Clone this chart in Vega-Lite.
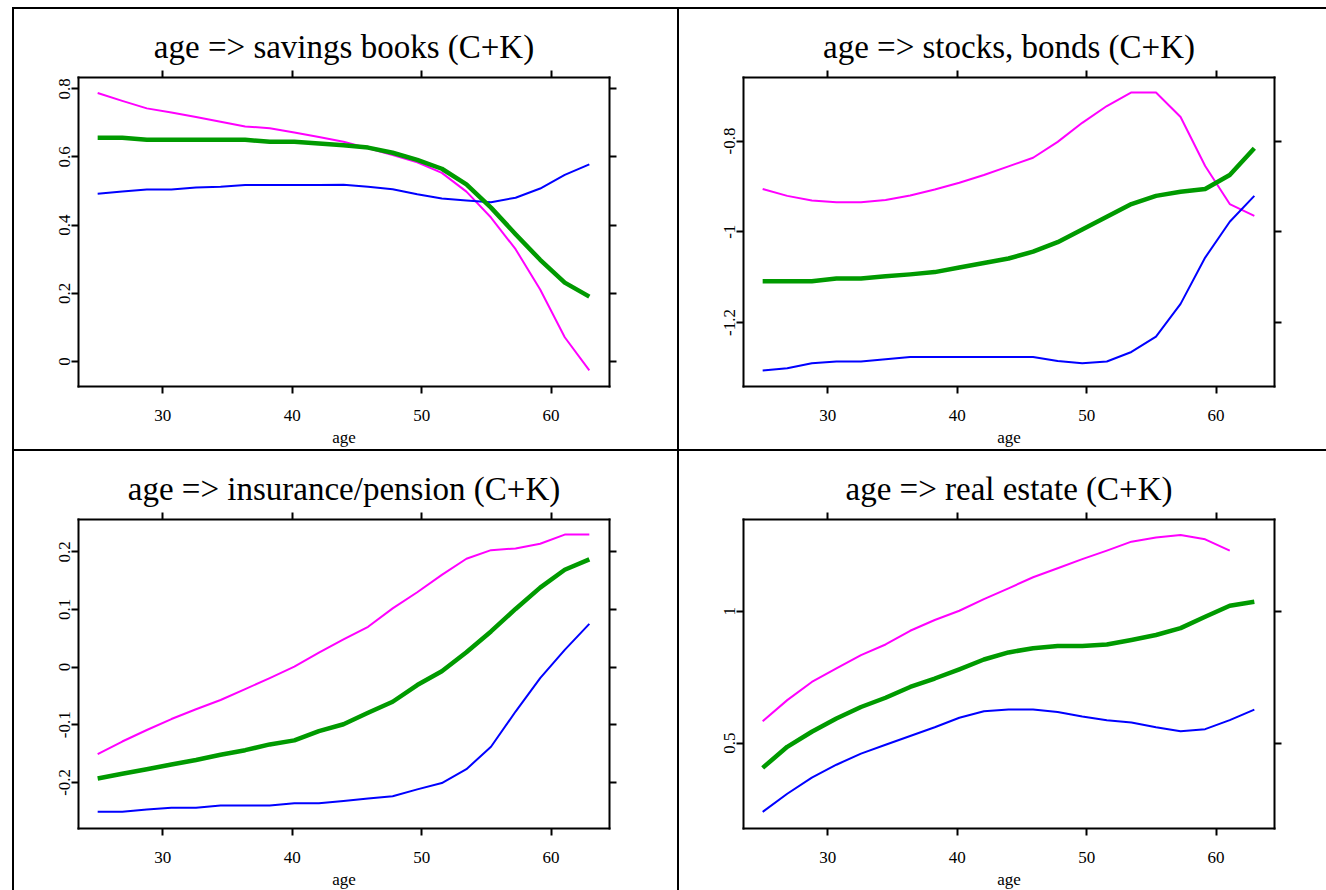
{
  "$schema": "https://vega.github.io/schema/vega-lite/v6.json",
  "background": "white",
  "padding": {"left": 12, "top": 7, "right": 0, "bottom": 0},
  "columns": 2,
  "spacing": 0,
  "bounds": "flush",
  "config": {
    "font": "Liberation Serif, Times New Roman, DejaVu Serif, serif",
    "view": {"stroke": "black", "strokeWidth": 2},
    "axis": {"grid": false, "domainColor": "black", "domainWidth": 2, "domainCap": "square", "tickColor": "black", "tickWidth": 2, "tickSize": 7, "labelFont": "Liberation Serif, Times New Roman, DejaVu Serif, serif", "labelFontSize": 17, "labelColor": "black", "titleFont": "Liberation Serif, Times New Roman, DejaVu Serif, serif", "titleFontWeight": "normal", "titleColor": "black", "labelFlush": false, "labelOverlap": false}
  },
  "datasets": {
    "savings": [
      {"age":25,"series":"hi","value":0.786},{"age":26.9,"series":"hi","value":0.763},{"age":28.8,"series":"hi","value":0.741},{"age":30.7,"series":"hi","value":0.729},{"age":32.6,"series":"hi","value":0.716},{"age":34.5,"series":"hi","value":0.702},{"age":36.4,"series":"hi","value":0.688},{"age":38.3,"series":"hi","value":0.683},{"age":40.2,"series":"hi","value":0.670},{"age":42.1,"series":"hi","value":0.657},{"age":44,"series":"hi","value":0.643},{"age":45.9,"series":"hi","value":0.624},{"age":47.8,"series":"hi","value":0.604},{"age":49.7,"series":"hi","value":0.583},{"age":51.6,"series":"hi","value":0.552},{"age":53.5,"series":"hi","value":0.497},{"age":55.4,"series":"hi","value":0.421},{"age":57.3,"series":"hi","value":0.328},{"age":59.2,"series":"hi","value":0.210},{"age":61.1,"series":"hi","value":0.070},{"age":63,"series":"hi","value":-0.027},
      {"age":25,"series":"lo","value":0.491},{"age":26.9,"series":"lo","value":0.497},{"age":28.8,"series":"lo","value":0.503},{"age":30.7,"series":"lo","value":0.503},{"age":32.6,"series":"lo","value":0.509},{"age":34.5,"series":"lo","value":0.511},{"age":36.4,"series":"lo","value":0.516},{"age":38.3,"series":"lo","value":0.516},{"age":40.2,"series":"lo","value":0.516},{"age":42.1,"series":"lo","value":0.516},{"age":44,"series":"lo","value":0.517},{"age":45.9,"series":"lo","value":0.511},{"age":47.8,"series":"lo","value":0.504},{"age":49.7,"series":"lo","value":0.489},{"age":51.6,"series":"lo","value":0.477},{"age":53.5,"series":"lo","value":0.471},{"age":55.4,"series":"lo","value":0.466},{"age":57.3,"series":"lo","value":0.479},{"age":59.2,"series":"lo","value":0.506},{"age":61.1,"series":"lo","value":0.546},{"age":63,"series":"lo","value":0.577},
      {"age":25,"series":"est","value":0.655},{"age":26.9,"series":"est","value":0.655},{"age":28.8,"series":"est","value":0.649},{"age":30.7,"series":"est","value":0.649},{"age":32.6,"series":"est","value":0.649},{"age":34.5,"series":"est","value":0.649},{"age":36.4,"series":"est","value":0.649},{"age":38.3,"series":"est","value":0.643},{"age":40.2,"series":"est","value":0.643},{"age":42.1,"series":"est","value":0.638},{"age":44,"series":"est","value":0.633},{"age":45.9,"series":"est","value":0.626},{"age":47.8,"series":"est","value":0.611},{"age":49.7,"series":"est","value":0.590},{"age":51.6,"series":"est","value":0.564},{"age":53.5,"series":"est","value":0.518},{"age":55.4,"series":"est","value":0.450},{"age":57.3,"series":"est","value":0.372},{"age":59.2,"series":"est","value":0.297},{"age":61.1,"series":"est","value":0.230},{"age":63,"series":"est","value":0.189}
    ],
    "stocks": [
      {"age":25,"series":"hi","value":-0.907},{"age":26.9,"series":"hi","value":-0.922},{"age":28.8,"series":"hi","value":-0.932},{"age":30.7,"series":"hi","value":-0.936},{"age":32.6,"series":"hi","value":-0.936},{"age":34.5,"series":"hi","value":-0.931},{"age":36.4,"series":"hi","value":-0.921},{"age":38.3,"series":"hi","value":-0.908},{"age":40.2,"series":"hi","value":-0.893},{"age":42.1,"series":"hi","value":-0.876},{"age":44,"series":"hi","value":-0.857},{"age":45.9,"series":"hi","value":-0.838},{"age":47.8,"series":"hi","value":-0.803},{"age":49.7,"series":"hi","value":-0.761},{"age":51.6,"series":"hi","value":-0.724},{"age":53.5,"series":"hi","value":-0.694},{"age":55.4,"series":"hi","value":-0.694},{"age":57.3,"series":"hi","value":-0.748},{"age":59.2,"series":"hi","value":-0.856},{"age":61.1,"series":"hi","value":-0.940},{"age":63,"series":"hi","value":-0.966},
      {"age":25,"series":"lo","value":-1.307},{"age":26.9,"series":"lo","value":-1.302},{"age":28.8,"series":"lo","value":-1.291},{"age":30.7,"series":"lo","value":-1.287},{"age":32.6,"series":"lo","value":-1.287},{"age":34.5,"series":"lo","value":-1.282},{"age":36.4,"series":"lo","value":-1.277},{"age":38.3,"series":"lo","value":-1.277},{"age":40.2,"series":"lo","value":-1.277},{"age":42.1,"series":"lo","value":-1.277},{"age":44,"series":"lo","value":-1.277},{"age":45.9,"series":"lo","value":-1.277},{"age":47.8,"series":"lo","value":-1.286},{"age":49.7,"series":"lo","value":-1.291},{"age":51.6,"series":"lo","value":-1.287},{"age":53.5,"series":"lo","value":-1.266},{"age":55.4,"series":"lo","value":-1.232},{"age":57.3,"series":"lo","value":-1.160},{"age":59.2,"series":"lo","value":-1.058},{"age":61.1,"series":"lo","value":-0.979},{"age":63,"series":"lo","value":-0.922},
      {"age":25,"series":"est","value":-1.110},{"age":26.9,"series":"est","value":-1.110},{"age":28.8,"series":"est","value":-1.110},{"age":30.7,"series":"est","value":-1.104},{"age":32.6,"series":"est","value":-1.104},{"age":34.5,"series":"est","value":-1.099},{"age":36.4,"series":"est","value":-1.095},{"age":38.3,"series":"est","value":-1.090},{"age":40.2,"series":"est","value":-1.080},{"age":42.1,"series":"est","value":-1.070},{"age":44,"series":"est","value":-1.060},{"age":45.9,"series":"est","value":-1.045},{"age":47.8,"series":"est","value":-1.024},{"age":49.7,"series":"est","value":-0.996},{"age":51.6,"series":"est","value":-0.968},{"age":53.5,"series":"est","value":-0.940},{"age":55.4,"series":"est","value":-0.922},{"age":57.3,"series":"est","value":-0.913},{"age":59.2,"series":"est","value":-0.907},{"age":61.1,"series":"est","value":-0.876},{"age":63,"series":"est","value":-0.817}
    ],
    "insurance": [
      {"age":25,"series":"hi","value":-0.152},{"age":26.9,"series":"hi","value":-0.130},{"age":28.8,"series":"hi","value":-0.110},{"age":30.7,"series":"hi","value":-0.091},{"age":32.6,"series":"hi","value":-0.074},{"age":34.5,"series":"hi","value":-0.058},{"age":36.4,"series":"hi","value":-0.039},{"age":38.3,"series":"hi","value":-0.020},{"age":40.2,"series":"hi","value":0.000},{"age":42.1,"series":"hi","value":0.024},{"age":44,"series":"hi","value":0.047},{"age":45.9,"series":"hi","value":0.069},{"age":47.8,"series":"hi","value":0.101},{"age":49.7,"series":"hi","value":0.129},{"age":51.6,"series":"hi","value":0.159},{"age":53.5,"series":"hi","value":0.187},{"age":55.4,"series":"hi","value":0.202},{"age":57.3,"series":"hi","value":0.205},{"age":59.2,"series":"hi","value":0.213},{"age":61.1,"series":"hi","value":0.229},{"age":63,"series":"hi","value":0.229},
      {"age":25,"series":"lo","value":-0.252},{"age":26.9,"series":"lo","value":-0.252},{"age":28.8,"series":"lo","value":-0.248},{"age":30.7,"series":"lo","value":-0.245},{"age":32.6,"series":"lo","value":-0.245},{"age":34.5,"series":"lo","value":-0.241},{"age":36.4,"series":"lo","value":-0.241},{"age":38.3,"series":"lo","value":-0.241},{"age":40.2,"series":"lo","value":-0.237},{"age":42.1,"series":"lo","value":-0.237},{"age":44,"series":"lo","value":-0.233},{"age":45.9,"series":"lo","value":-0.229},{"age":47.8,"series":"lo","value":-0.225},{"age":49.7,"series":"lo","value":-0.213},{"age":51.6,"series":"lo","value":-0.202},{"age":53.5,"series":"lo","value":-0.178},{"age":55.4,"series":"lo","value":-0.139},{"age":57.3,"series":"lo","value":-0.078},{"age":59.2,"series":"lo","value":-0.020},{"age":61.1,"series":"lo","value":0.029},{"age":63,"series":"lo","value":0.074},
      {"age":25,"series":"est","value":-0.194},{"age":26.9,"series":"est","value":-0.186},{"age":28.8,"series":"est","value":-0.178},{"age":30.7,"series":"est","value":-0.170},{"age":32.6,"series":"est","value":-0.162},{"age":34.5,"series":"est","value":-0.153},{"age":36.4,"series":"est","value":-0.145},{"age":38.3,"series":"est","value":-0.135},{"age":40.2,"series":"est","value":-0.128},{"age":42.1,"series":"est","value":-0.112},{"age":44,"series":"est","value":-0.100},{"age":45.9,"series":"est","value":-0.080},{"age":47.8,"series":"est","value":-0.061},{"age":49.7,"series":"est","value":-0.032},{"age":51.6,"series":"est","value":-0.008},{"age":53.5,"series":"est","value":0.025},{"age":55.4,"series":"est","value":0.061},{"age":57.3,"series":"est","value":0.100},{"age":59.2,"series":"est","value":0.137},{"age":61.1,"series":"est","value":0.168},{"age":63,"series":"est","value":0.186}
    ],
    "realestate": [
      {"age":25,"series":"hi","value":0.581},{"age":26.9,"series":"hi","value":0.661},{"age":28.8,"series":"hi","value":0.730},{"age":30.7,"series":"hi","value":0.781},{"age":32.6,"series":"hi","value":0.832},{"age":34.5,"series":"hi","value":0.872},{"age":36.4,"series":"hi","value":0.924},{"age":38.3,"series":"hi","value":0.965},{"age":40.2,"series":"hi","value":1.000},{"age":42.1,"series":"hi","value":1.044},{"age":44,"series":"hi","value":1.085},{"age":45.9,"series":"hi","value":1.127},{"age":47.8,"series":"hi","value":1.161},{"age":49.7,"series":"hi","value":1.196},{"age":51.6,"series":"hi","value":1.228},{"age":53.5,"series":"hi","value":1.262},{"age":55.4,"series":"hi","value":1.278},{"age":57.3,"series":"hi","value":1.287},{"age":59.2,"series":"hi","value":1.271},{"age":61.1,"series":"hi","value":1.228},
      {"age":25,"series":"lo","value":0.237},{"age":26.9,"series":"lo","value":0.306},{"age":28.8,"series":"lo","value":0.367},{"age":30.7,"series":"lo","value":0.416},{"age":32.6,"series":"lo","value":0.458},{"age":34.5,"series":"lo","value":0.492},{"age":36.4,"series":"lo","value":0.525},{"age":38.3,"series":"lo","value":0.558},{"age":40.2,"series":"lo","value":0.594},{"age":42.1,"series":"lo","value":0.619},{"age":44,"series":"lo","value":0.625},{"age":45.9,"series":"lo","value":0.625},{"age":47.8,"series":"lo","value":0.616},{"age":49.7,"series":"lo","value":0.599},{"age":51.6,"series":"lo","value":0.585},{"age":53.5,"series":"lo","value":0.576},{"age":55.4,"series":"lo","value":0.558},{"age":57.3,"series":"lo","value":0.543},{"age":59.2,"series":"lo","value":0.551},{"age":61.1,"series":"lo","value":0.585},{"age":63,"series":"lo","value":0.625},
      {"age":25,"series":"est","value":0.404},{"age":26.9,"series":"est","value":0.484},{"age":28.8,"series":"est","value":0.541},{"age":30.7,"series":"est","value":0.591},{"age":32.6,"series":"est","value":0.635},{"age":34.5,"series":"est","value":0.670},{"age":36.4,"series":"est","value":0.711},{"age":38.3,"series":"est","value":0.743},{"age":40.2,"series":"est","value":0.778},{"age":42.1,"series":"est","value":0.815},{"age":44,"series":"est","value":0.842},{"age":45.9,"series":"est","value":0.858},{"age":47.8,"series":"est","value":0.866},{"age":49.7,"series":"est","value":0.866},{"age":51.6,"series":"est","value":0.872},{"age":53.5,"series":"est","value":0.889},{"age":55.4,"series":"est","value":0.908},{"age":57.3,"series":"est","value":0.934},{"age":59.2,"series":"est","value":0.977},{"age":61.1,"series":"est","value":1.019},{"age":63,"series":"est","value":1.034}
    ]
  },
  "concat": [
    {
      "width": 665, "height": 442,
      "data": {"name": "savings"},
      "layer": [
        {"mark": {"type": "line", "strokeJoin": "round"},
         "encoding": {
           "x": {"field": "age", "type": "quantitative", "scale": {"domain": [23.48, 64.52], "range": [65, 596], "nice": false, "zero": false}, "axis": {"orient": "bottom", "offset": -64, "values": [30, 40, 50, 60], "title": "age", "titleFontSize": 17, "titleBaseline": "alphabetic", "titlePadding": 19, "labelPadding": 14, "labelExpr": "'' + datum.value"}},
           "y": {"field": "value", "type": "quantitative", "scale": {"domain": [-0.073, 0.833], "range": [378, 69], "nice": false, "zero": false}, "axis": {"orient": "left", "offset": -65, "values": [0, 0.2, 0.4, 0.6, 0.8], "title": null, "labelAngle": -90, "labelAlign": "center", "labelBaseline": "alphabetic", "labelPadding": 2, "labelExpr": "'' + datum.value"}},
           "color": {"field": "series", "type": "nominal", "scale": {"domain": ["hi", "lo", "est"], "range": ["#ff00ff", "#0000ff", "#009a00"]}, "legend": null},
           "strokeWidth": {"condition": {"test": "datum.series === 'est'", "value": 4.5}, "value": 2}
         }},
        {"mark": {"type": "line", "strokeOpacity": 0},
         "encoding": {
           "x": {"field": "age", "type": "quantitative", "axis": {"orient": "top", "offset": -69, "values": [30, 40, 50, 60], "labels": false, "title": "age => savings books (C+K)", "titleFontSize": 33, "titleBaseline": "alphabetic", "titlePadding": 12}},
           "y": {"field": "value", "type": "quantitative", "axis": {"orient": "right", "offset": -69, "values": [0, 0.2, 0.4, 0.6, 0.8], "labels": false, "title": null}},
           "detail": {"field": "series", "type": "nominal"}
         }}
      ],
      "resolve": {"axis": {"x": "independent", "y": "independent"}}
    },
    {
      "width": 665, "height": 442,
      "data": {"name": "stocks"},
      "layer": [
        {"mark": {"type": "line", "strokeJoin": "round"},
         "encoding": {
           "x": {"field": "age", "type": "quantitative", "scale": {"domain": [23.48, 64.52], "range": [65, 596], "nice": false, "zero": false}, "axis": {"orient": "bottom", "offset": -64, "values": [30, 40, 50, 60], "title": "age", "titleFontSize": 17, "titleBaseline": "alphabetic", "titlePadding": 19, "labelPadding": 14, "labelExpr": "'' + datum.value"}},
           "y": {"field": "value", "type": "quantitative", "scale": {"domain": [-1.341, -0.66], "range": [378, 69], "nice": false, "zero": false}, "axis": {"orient": "left", "offset": -65, "values": [-1.2, -1, -0.8], "title": null, "labelAngle": -90, "labelAlign": "center", "labelBaseline": "alphabetic", "labelPadding": 2, "labelExpr": "'' + datum.value"}},
           "color": {"field": "series", "type": "nominal", "scale": {"domain": ["hi", "lo", "est"], "range": ["#ff00ff", "#0000ff", "#009a00"]}, "legend": null},
           "strokeWidth": {"condition": {"test": "datum.series === 'est'", "value": 4.5}, "value": 2}
         }},
        {"mark": {"type": "line", "strokeOpacity": 0},
         "encoding": {
           "x": {"field": "age", "type": "quantitative", "axis": {"orient": "top", "offset": -69, "values": [30, 40, 50, 60], "labels": false, "title": "age => stocks, bonds (C+K)", "titleFontSize": 33, "titleBaseline": "alphabetic", "titlePadding": 12}},
           "y": {"field": "value", "type": "quantitative", "axis": {"orient": "right", "offset": -69, "values": [-1.2, -1, -0.8], "labels": false, "title": null}},
           "detail": {"field": "series", "type": "nominal"}
         }}
      ],
      "resolve": {"axis": {"x": "independent", "y": "independent"}}
    },
    {
      "width": 665, "height": 442,
      "data": {"name": "insurance"},
      "layer": [
        {"mark": {"type": "line", "strokeJoin": "round"},
         "encoding": {
           "x": {"field": "age", "type": "quantitative", "scale": {"domain": [23.48, 64.52], "range": [65, 596], "nice": false, "zero": false}, "axis": {"orient": "bottom", "offset": -64, "values": [30, 40, 50, 60], "title": "age", "titleFontSize": 17, "titleBaseline": "alphabetic", "titlePadding": 19, "labelPadding": 14, "labelExpr": "'' + datum.value"}},
           "y": {"field": "value", "type": "quantitative", "scale": {"domain": [-0.28, 0.256], "range": [378, 69], "nice": false, "zero": false}, "axis": {"orient": "left", "offset": -65, "values": [-0.2, -0.1, 0, 0.1, 0.2], "title": null, "labelAngle": -90, "labelAlign": "center", "labelBaseline": "alphabetic", "labelPadding": 2, "labelExpr": "'' + datum.value"}},
           "color": {"field": "series", "type": "nominal", "scale": {"domain": ["hi", "lo", "est"], "range": ["#ff00ff", "#0000ff", "#009a00"]}, "legend": null},
           "strokeWidth": {"condition": {"test": "datum.series === 'est'", "value": 4.5}, "value": 2}
         }},
        {"mark": {"type": "line", "strokeOpacity": 0},
         "encoding": {
           "x": {"field": "age", "type": "quantitative", "axis": {"orient": "top", "offset": -69, "values": [30, 40, 50, 60], "labels": false, "title": "age => insurance/pension (C+K)", "titleFontSize": 33, "titleBaseline": "alphabetic", "titlePadding": 12}},
           "y": {"field": "value", "type": "quantitative", "axis": {"orient": "right", "offset": -69, "values": [-0.2, -0.1, 0, 0.1, 0.2], "labels": false, "title": null}},
           "detail": {"field": "series", "type": "nominal"}
         }}
      ],
      "resolve": {"axis": {"x": "independent", "y": "independent"}}
    },
    {
      "width": 665, "height": 442,
      "data": {"name": "realestate"},
      "layer": [
        {"mark": {"type": "line", "strokeJoin": "round"},
         "encoding": {
           "x": {"field": "age", "type": "quantitative", "scale": {"domain": [23.48, 64.52], "range": [65, 596], "nice": false, "zero": false}, "axis": {"orient": "bottom", "offset": -64, "values": [30, 40, 50, 60], "title": "age", "titleFontSize": 17, "titleBaseline": "alphabetic", "titlePadding": 19, "labelPadding": 14, "labelExpr": "'' + datum.value"}},
           "y": {"field": "value", "type": "quantitative", "scale": {"domain": [0.176, 1.348], "range": [378, 69], "nice": false, "zero": false}, "axis": {"orient": "left", "offset": -65, "values": [0.5, 1], "title": null, "labelAngle": -90, "labelAlign": "center", "labelBaseline": "alphabetic", "labelPadding": 2, "labelExpr": "'' + datum.value"}},
           "color": {"field": "series", "type": "nominal", "scale": {"domain": ["hi", "lo", "est"], "range": ["#ff00ff", "#0000ff", "#009a00"]}, "legend": null},
           "strokeWidth": {"condition": {"test": "datum.series === 'est'", "value": 4.5}, "value": 2}
         }},
        {"mark": {"type": "line", "strokeOpacity": 0},
         "encoding": {
           "x": {"field": "age", "type": "quantitative", "axis": {"orient": "top", "offset": -69, "values": [30, 40, 50, 60], "labels": false, "title": "age => real estate (C+K)", "titleFontSize": 33, "titleBaseline": "alphabetic", "titlePadding": 12}},
           "y": {"field": "value", "type": "quantitative", "axis": {"orient": "right", "offset": -69, "values": [0.5, 1], "labels": false, "title": null}},
           "detail": {"field": "series", "type": "nominal"}
         }}
      ],
      "resolve": {"axis": {"x": "independent", "y": "independent"}}
    }
  ]
}
